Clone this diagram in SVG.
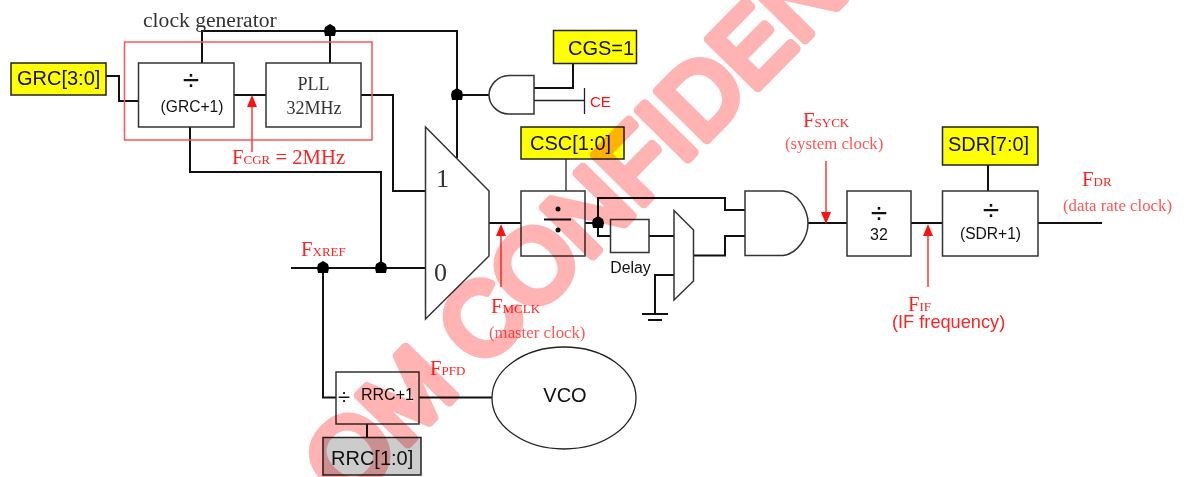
<svg xmlns="http://www.w3.org/2000/svg" width="1187" height="477" viewBox="0 0 1187 477">
<defs><path id="dot" d="M0 -7L5 -4L6 0L5 5H-5L-6 0L-5 -4Z" fill="#000"/></defs>
<style>
.w{stroke:#111;stroke-width:2;fill:none}
.t{stroke:#222;stroke-width:1.3;fill:none}
.b{fill:#fff;stroke:#333;stroke-width:1.5}
.y{fill:#ff0;stroke:#222;stroke-width:1.5}
.a{font-family:"Liberation Sans",Arial,sans-serif;fill:#111}
.d{font-size:30px;text-anchor:middle}
.s{font-family:"Liberation Serif","Times New Roman",serif}
.r{font-family:"Liberation Serif","Times New Roman",serif;fill:#f22;font-size:20.700px}
.r2{font-size:16.800px;fill:#f55}
.sub{font-size:13px}
.ar{stroke:#f44;stroke-width:1.6;fill:none}
.h{fill:#f11}
.wm{font-family:"Liberation Sans",Arial,sans-serif;font-size:101px;fill:#ffb3b3;stroke:#ffb3b3;stroke-width:9;stroke-linejoin:round;mix-blend-mode:multiply}
</style>
<rect width="1187" height="477" fill="#fff"/>
<g id="connectors">
<path class="w" d="M106 76H119V101H138"/>
<path class="w" d="M202 63V31H457V158"/>
<path class="w" d="M330 31V63"/>
<path class="w" d="M234 95H266"/>
<path class="w" d="M361 95H393V191H426"/>
<path class="w" d="M190 127V172H381V268"/>
<path class="w" d="M291 268H426"/>
<path class="w" d="M323 268V397.500H336"/>
<path class="w" d="M457 95H489"/>
<path class="w" d="M534 88H573V63"/>
<path class="t" d="M534 100.500H584.500M584.500 88V114"/>
<path class="t" d="M566 159V191"/>
<path class="w" d="M489 223H521"/>
<path class="w" d="M585 223H598V198H725V210H745"/>
<path class="w" d="M598 223V236H610"/>
<path class="w" d="M649 236H674"/>
<path class="w" d="M693 255.500H725V236H745"/>
<path class="w" d="M674 275H655V313"/>
<path class="w" d="M642 314H668"/>
<path class="w" d="M648 320H662"/>
<path class="w" d="M808 223H847"/>
<path class="w" d="M911 223H942"/>
<path class="w" d="M988 165V191"/>
<path class="w" d="M1038 223H1102"/>
<path class="w" d="M419 397.500H492"/>
<path class="w" d="M367 424V437"/>
<use href="#dot" x="330" y="31"/>
<use href="#dot" x="457" y="95"/>
<use href="#dot" x="323" y="268"/>
<use href="#dot" x="381" y="268"/>
<use href="#dot" x="598" y="223"/>
</g>
<g id="clock-generator">
<rect x="124.500" y="42" width="247.500" height="98" fill="none" stroke="#f55" stroke-width="1.500"/>
<text class="s" x="143" y="27" font-size="21.600" fill="#333">clock generator</text>
</g>
<g id="grc"><rect class="y" x="11" y="63" width="95" height="32"/><text class="a" x="17" y="85" font-size="20">GRC[3:0]</text></g>
<g id="div-grc"><rect class="b" x="138.500" y="63" width="95.500" height="64"/><text class="a d" x="191" y="90">÷</text><text class="a" x="192" y="112" font-size="15.600" text-anchor="middle">(GRC+1)</text></g>
<g id="pll"><rect class="b" x="266" y="63" width="95" height="64"/><text class="s" x="313.500" y="90" font-size="18" text-anchor="middle" fill="#333">PLL</text><text class="s" x="314" y="114" font-size="18" text-anchor="middle" fill="#333">32MHz</text></g>
<g id="and-ce"><path class="b" d="M534 75.500H509C497 75.500 489 86 489 95C489 104 497 114 509 114H534Z"/><text x="590" y="107" font-family="Liberation Sans,sans-serif" font-size="15" fill="#f11">CE</text></g>
<g id="cgs"><rect class="y" x="553.500" y="30.500" width="83" height="33"/><text class="a" x="568" y="55" font-size="20">CGS=1</text></g>
<g id="csc"><rect class="y" x="521" y="127" width="103" height="32"/><text class="a" x="530" y="150" font-size="20">CSC[1:0]</text></g>
<g id="mux-main"><path class="b" stroke-width="2" d="M425.500 127L489 191V256L425.500 319Z"/><text class="s" x="436" y="187" font-size="26" fill="#333">1</text><text class="s" x="434" y="281" font-size="26" fill="#333">0</text></g>
<g id="div-csc"><rect class="b" x="521" y="191" width="64" height="65"/><path class="w" stroke-width="2.500" d="M544 219.500H571"/><circle cx="558" cy="209" r="2.500" fill="#111"/><circle cx="558" cy="230" r="2.500" fill="#111"/></g>
<g id="delay"><rect class="b" x="610.500" y="219.500" width="38.500" height="33"/><text class="a" x="630.500" y="273" font-size="15.800" text-anchor="middle">Delay</text></g>
<g id="mux-small"><path class="b" stroke="#111" stroke-width="2" d="M674 210.500L693.500 230V281L674 300Z"/></g>
<g id="and-main"><path class="b" d="M745 191H783C797 192 808 209 808 223C808 238 797 254 783 255.500H745Z"/></g>
<g id="div-32"><rect class="b" x="847" y="191" width="64" height="65"/><text class="a d" x="879" y="223">÷</text><text class="a" x="879" y="240" font-size="16" text-anchor="middle">32</text></g>
<g id="div-sdr"><rect class="b" x="942.500" y="191" width="95.500" height="65"/><text class="a d" x="991" y="220">÷</text><text class="a" x="990.500" y="239" font-size="15.600" text-anchor="middle">(SDR+1)</text></g>
<g id="sdr"><rect class="y" x="942.500" y="127" width="95.500" height="38"/><text class="a" x="948" y="151" font-size="20">SDR[7:0]</text></g>
<g id="div-rrc"><rect class="b" stroke-width="1.200" x="336" y="372" width="83" height="52"/><text class="a" x="338" y="404" font-size="22">÷</text><text class="a" x="361" y="400" font-size="16">RRC+1</text></g>
<g id="vco"><ellipse cx="564" cy="398" rx="72" ry="51" fill="#fff" stroke="#222" stroke-width="1.300"/><text class="a" x="565" y="402" font-size="20" text-anchor="middle">VCO</text></g>
<g id="rrc"><rect x="323" y="437.500" width="98" height="37.500" fill="#ccc" stroke="#222" stroke-width="1.500"/><text class="a" x="331" y="465" font-size="20">RRC[1:0]</text></g>
<g id="annotations">
<path class="ar" d="M252 152V102M501 287V232M826 161V216M928 287V232"/>
<path class="h" d="M252 95L247 107H257ZM501 224L496 236H506ZM826 224L821 212H831ZM928 224L923 236H933Z"/>
<text class="r" x="232" y="164">F<tspan class="sub">CGR</tspan> = 2MHz</text>
<text class="r" x="301" y="256">F<tspan class="sub">XREF</tspan></text>
<text class="r" x="491" y="313">F<tspan class="sub">MCLK</tspan></text>
<text class="r r2" x="489" y="338">(master clock)</text>
<text class="r" x="430" y="375">F<tspan class="sub">PFD</tspan></text>
<text class="r" x="803" y="127">F<tspan class="sub">SYCK</tspan></text>
<text class="r r2" x="785" y="149">(system clock)</text>
<text class="r" x="908" y="311">F<tspan class="sub">IF</tspan></text>
<text x="892" y="328" font-family="Liberation Sans,sans-serif" font-size="18.200" fill="#f22">(IF frequency)</text>
<text class="r" x="1082" y="186">F<tspan class="sub">DR</tspan></text>
<text class="r r2" x="1063" y="211">(data rate clock)</text>
</g>
<text class="wm" transform="translate(347,506) rotate(-45.500)">OM CONFIDEN</text>
</svg>
